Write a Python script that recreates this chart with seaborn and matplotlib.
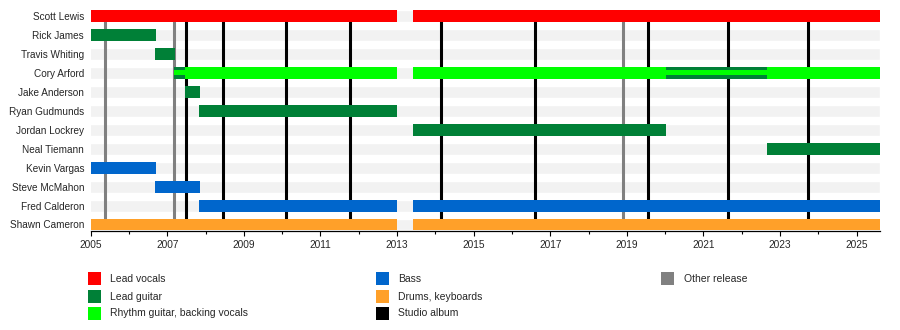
import matplotlib
matplotlib.use("Agg")
import matplotlib.pyplot as plt
from matplotlib.patches import Rectangle
import seaborn as sns
import pandas as pd

# Band members, top to bottom
members = ["Scott Lewis", "Rick James", "Travis Whiting", "Cory Arford", "Jake Anderson",
           "Ryan Gudmunds", "Jordan Lockrey", "Neal Tiemann", "Kevin Vargas",
           "Steve McMahon", "Fred Calderon", "Shawn Cameron"]

start_year = 2005
present = 2025.62

# Membership stints: who, which role, from, to
stint_member = ["Scott Lewis", "Scott Lewis",
                "Rick James", "Travis Whiting",
                "Cory Arford", "Cory Arford", "Cory Arford", "Cory Arford", "Cory Arford",
                "Jake Anderson", "Ryan Gudmunds", "Jordan Lockrey", "Neal Tiemann",
                "Kevin Vargas", "Steve McMahon", "Fred Calderon", "Fred Calderon",
                "Shawn Cameron", "Shawn Cameron"]
stint_role = ["vocals", "vocals",
              "lead", "lead",
              "lead+rhythm", "rhythm", "rhythm", "lead+rhythm", "rhythm",
              "lead", "lead", "lead", "lead",
              "bass", "bass", "bass", "bass",
              "drums", "drums"]
stint_start = [2005.0, 2013.42,
               2005.0, 2006.68,
               2007.18, 2007.46, 2013.42, 2020.02, 2022.66,
               2007.46, 2007.83, 2013.42, 2022.66,
               2005.0, 2006.68, 2007.83, 2013.42,
               2005.0, 2013.42]
stint_end = [2013.0, present,
             2006.70, 2007.20,
             2007.46, 2013.0, 2020.02, 2022.66, present,
             2007.85, 2013.0, 2020.02, present,
             2006.70, 2007.85, 2013.0, present,
             2013.0, present]

# Releases
other_releases = [2005.37, 2007.18, 2018.90]
studio_albums = [2007.48, 2008.46, 2010.10, 2011.78, 2014.16, 2016.59,
                 2019.56, 2021.65, 2023.74]

# Legend entries
legend_labels = ["Lead vocals", "Lead guitar", "Rhythm guitar, backing vocals",
                 "Bass", "Drums, keyboards", "Studio album", "Other release"]

role_colors = {
    "vocals": "#ff0000",
    "lead": "#008037",
    "rhythm": "#00ff00",
    "bass": "#0066cc",
    "drums": "#ffa029",
}
legend_colors = ["#ff0000", "#008037", "#00ff00", "#0066cc", "#ffa029", "#000000", "#808080"]

sns.set_theme(style="white")
plt.rcParams["font.family"] = ["Liberation Sans", "DejaVu Sans"]

fig = plt.figure(figsize=(9, 3.3), dpi=100)
W, H = 900, 330
ax_left, ax_right, ax_top, ax_bottom = 90.7, 880.3, 10, 230.5
ax = fig.add_axes([ax_left / W, 1 - ax_bottom / H, (ax_right - ax_left) / W, (ax_bottom - ax_top) / H])

bar_h = 0.63

# Light background stripe behind each member row
bg = pd.DataFrame({"member": members, "span": [present] * len(members)})
sns.barplot(data=bg, x="span", y="member", order=members, color="#f2f2f2",
            width=bar_h, saturation=1, ax=ax, zorder=1)

# Release markers, running from the first row to the last
n = len(members)
ax.vlines(other_releases, 0, n - 1, color="#808080", lw=2.2, zorder=2)
ax.vlines(studio_albums, 0, n - 1, color="#000000", lw=2.2, zorder=2)

# Member stints
row = {m: i for i, m in enumerate(members)}
df = pd.DataFrame({"member": stint_member, "role": stint_role,
                   "start": stint_start, "end": stint_end})
for _, r in df.iterrows():
    y = row[r["member"]]
    w = r["end"] - r["start"]
    if r["role"] == "lead+rhythm":
        ax.barh(y, w, left=r["start"], height=bar_h, color=role_colors["lead"], lw=0, zorder=3)
        ax.barh(y, w, left=r["start"], height=bar_h * 0.42, color=role_colors["rhythm"], lw=0, zorder=4)
    else:
        ax.barh(y, w, left=r["start"], height=bar_h, color=role_colors[r["role"]], lw=0, zorder=3)

ax.set_xlim(start_year, present)
ax.set_ylim(n - 1 + 6 / 18.95, -6 / 18.95)
ax.set_xlabel("")
ax.set_ylabel("")

ax.set_xticks(range(2005, 2026, 2))
ax.set_xticks(range(2005, 2026), minor=True)
ax.set_xticklabels([str(y) for y in range(2005, 2026, 2)])
ax.tick_params(axis="x", which="major", bottom=True, length=3.6, width=0.8, color="black",
               pad=3, labelsize=7.3)
ax.tick_params(axis="x", which="minor", bottom=True, length=2.2, width=0.8, color="black")
ax.tick_params(axis="y", left=False, length=0, pad=4.8, labelsize=7.2)

for s in ["top", "right", "left"]:
    ax.spines[s].set_visible(False)
ax.spines["bottom"].set_color("black")
ax.spines["bottom"].set_linewidth(0.9)
ax.spines["bottom"].set_zorder(5)

# Legend laid out in three columns
col_x = [88, 376, 661]
row_y = [278.5, 296.5, 313.5]
positions = [(0, 0), (0, 1), (0, 2), (1, 0), (1, 1), (1, 2), (2, 0)]
for label, color, (c, rr) in zip(legend_labels, legend_colors, positions):
    x0 = col_x[c]
    yc = row_y[rr]
    fig.patches.append(Rectangle((x0 / W, 1 - (yc + 6.5) / H), 13 / W, 13 / H,
                                 transform=fig.transFigure, color=color, lw=0))
    fig.text((x0 + 22.5) / W, 1 - yc / H, label, ha="left", va="center", fontsize=7.5)

fig.savefig("out.png", dpi=100)
